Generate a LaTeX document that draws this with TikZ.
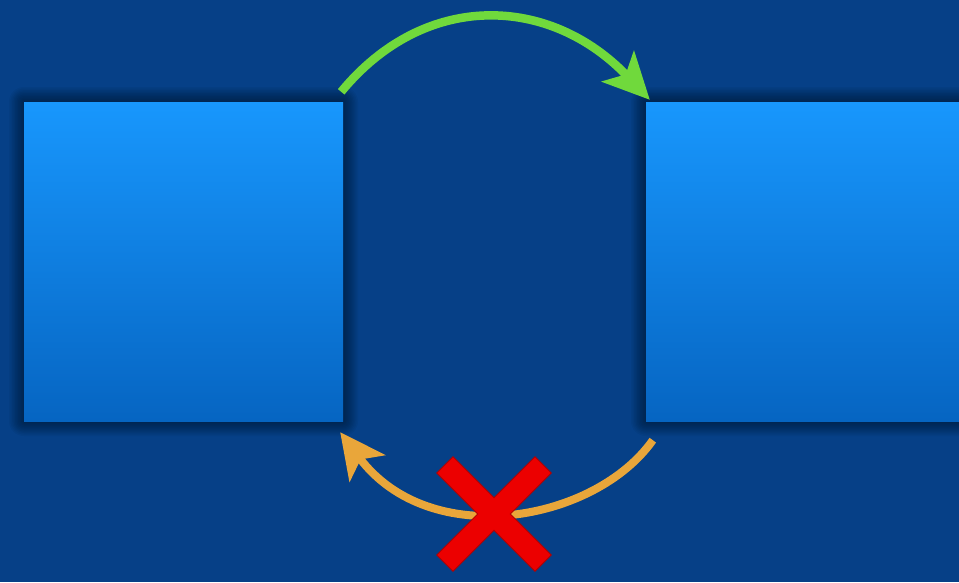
\documentclass[tikz,border=0pt]{standalone}
\usetikzlibrary{arrows.meta}
\definecolor{bg}{RGB}{6,64,135}
\definecolor{boxtop}{RGB}{24,151,253}
\definecolor{boxbot}{RGB}{6,101,194}
\definecolor{arrgreen}{RGB}{112,217,60}
\definecolor{arrorange}{RGB}{233,166,58}
\definecolor{xred}{RGB}{236,0,0}
\definecolor{xedge}{RGB}{180,0,0}
\tikzset{
  box/.style={rectangle, minimum width=319pt, minimum height=319pt, inner sep=0pt,
    top color=boxtop, bottom color=boxbot, draw=none},
  flow/.style={line width=8.5pt, line cap=butt},
}
\begin{document}
\begin{tikzpicture}[x=1pt,y=-1pt]
\useasboundingbox (0,0) rectangle (959,582);
\clip (0,0) rectangle (959,582);
\fill[bg] (0,0) rectangle (959,582);
% shadows
\foreach \s in {15,13.5,12,10.5,9,7.5,6,4.5,3,1.5}{
  \fill[black, opacity=0.045, rounded corners=\s pt] (24-\s,102-\s) rectangle (343+\s,421+\s);
  \fill[black, opacity=0.045, rounded corners=\s pt] (646-\s,102-\s) rectangle (1000,421+\s);
}
\node[box] (A) at (183.5,261.5) {};
\node[box] (B) at (805.5,261.5) {};
\coordinate (gs) at ([shift={(-2,-10)}]A.north east);
\coordinate (ge) at ([shift={(4,-2)}]B.north west);
\coordinate (os) at ([shift={(7,19)}]B.south west);
\coordinate (oe) at ([shift={(-3,11)}]A.south east);
\draw[flow, arrgreen, -{Stealth[length=46pt, width=44pt, inset=11pt]}]
  (gs) .. controls (425,-10) and (550,-5) .. (ge);
\draw[flow, arrorange, line width=8pt, -{Stealth[length=45pt, width=44pt, inset=11pt]}]
  (os) .. controls (595,522) and (430,552) .. (oe);
% red cross
\begin{scope}[shift={(494,514)}, rotate=45]
  \path[fill=xred, draw=xedge, line width=0.8pt, line join=miter]
    (69.5,11.5) -- (69.5,-11.5) -- (11.5,-11.5) -- (11.5,-69.5) -- (-11.5,-69.5)
    -- (-11.5,-11.5) -- (-69.5,-11.5) -- (-69.5,11.5) -- (-11.5,11.5)
    -- (-11.5,69.5) -- (11.5,69.5) -- (11.5,11.5) -- cycle;
\end{scope}
\node[inner sep=0pt, minimum size=0pt] (X) at (494,514) {};
\end{tikzpicture}
\end{document}
